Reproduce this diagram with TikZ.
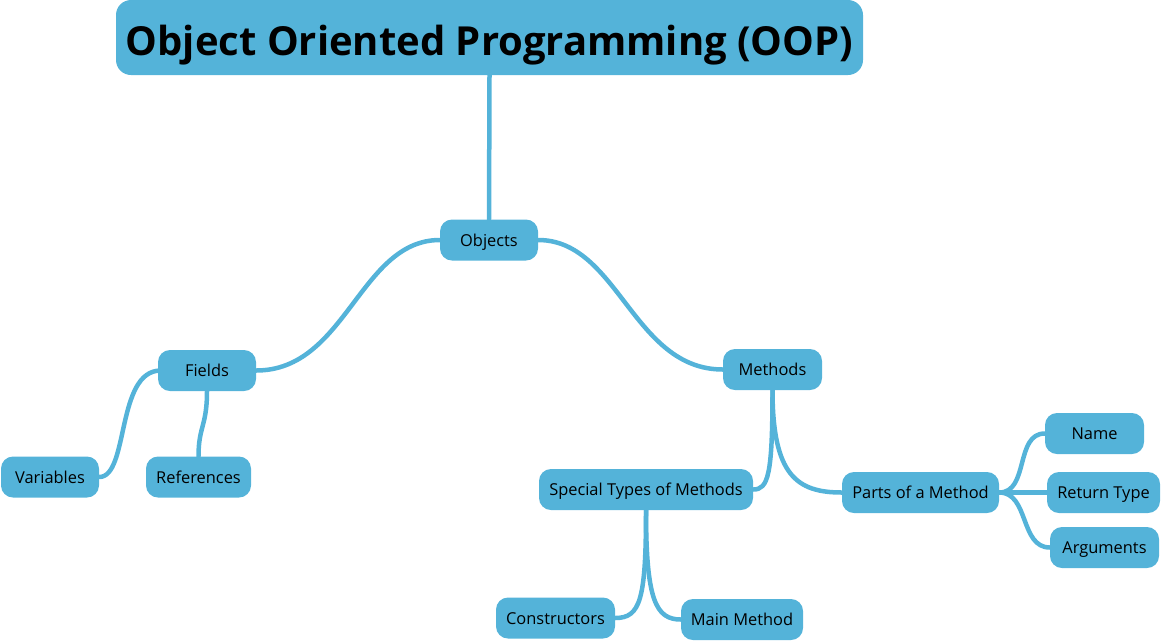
\documentclass[tikz,border=0pt]{standalone}
\usepackage{fontspec}
\setmainfont{Open Sans}
\usetikzlibrary{backgrounds}
\definecolor{boxblue}{HTML}{54B3D9}
\begin{document}
\begin{tikzpicture}[x=1pt,y=-1pt,
  box/.style={fill=boxblue, rounded corners=12pt, minimum height=41pt, inner sep=0pt, text height=12pt, text depth=0pt, text=black, font=\fontsize{16.4}{19}\selectfont},
  link/.style={draw=boxblue, line width=4.5pt, line cap=round}]
\useasboundingbox (0,0) rectangle (1161,641);
\node[box, minimum width=747pt, minimum height=75pt, rounded corners=15pt, text height=35pt, text depth=0pt, font=\bfseries\fontsize{40}{46}\selectfont] (title) at (489.5,37.5) {Object Oriented Programming (OOP)};
\node[box, minimum width=98pt] (objects) at (489,240) {Objects};
\node[box, minimum width=98pt] (fields) at (207,370.5) {Fields};
\node[box, minimum width=99pt] (methods) at (772.5,369.5) {Methods};
\node[box, minimum width=98pt] (variables) at (50,477) {Variables};
\node[box, minimum width=105pt] (references) at (198.5,477) {References};
\node[box, minimum width=214pt] (special) at (646,489.5) {Special Types of Methods};
\node[box, minimum width=157pt] (parts) at (920.5,492.5) {Parts of a Method};
\node[box, minimum width=99pt] (name) at (1094.5,433.5) {Name};
\node[box, minimum width=113pt] (return) at (1103.5,492.5) {Return Type};
\node[box, minimum width=109pt] (arguments) at (1104.5,547.5) {Arguments};
\node[box, minimum width=119pt] (constructors) at (555.5,618) {Constructors};
\node[box, minimum width=122pt] (main) at (742,619.5) {Main Method};
\begin{scope}[on background layer]
\draw[link] (title.south) -- (objects.north);
\draw[link] (objects.west) .. controls +(-80,0) and +(90,0) .. (fields.east);
\draw[link] (objects.east) .. controls +(80,0) and +(-90,0) .. (methods.west);
\draw[link] ([xshift=3pt]fields.west) .. controls +(-45,0) and +(30,0) .. (variables.east);
\draw[link] (fields.south) .. controls +(0,35) and +(0,-30) .. (references.north);
\draw[link] (methods.south) .. controls +(0,85) and +(15,0) .. (special.east);
\draw[link] (methods.south) .. controls +(0,85) and +(-45,0) .. (parts.west);
\draw[link] (parts.east) .. controls +(30,0) and +(-30,0) .. (name.west);
\draw[link] (parts.east) -- (return.west);
\draw[link] (parts.east) .. controls +(30,0) and +(-30,0) .. (arguments.west);
\draw[link] (special.south) .. controls +(0,90) and +(25,0) .. (constructors.east);
\draw[link] (special.south) .. controls +(0,90) and +(-25,0) .. (main.west);
\end{scope}
\end{tikzpicture}
\end{document}
